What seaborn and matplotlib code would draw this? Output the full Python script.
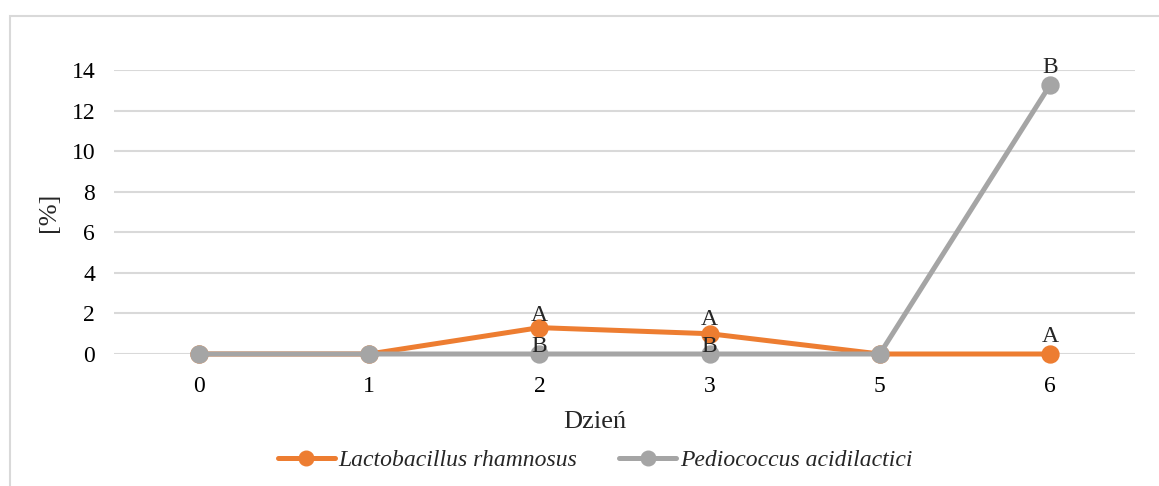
import matplotlib
matplotlib.use("Agg")
import matplotlib.pyplot as plt
import seaborn as sns
import pandas as pd
from matplotlib.lines import Line2D
from matplotlib.patches import Rectangle

days = ["0", "1", "2", "3", "5", "6"]
lacto = [0, 0, 1.3, 1.0, 0, 0]
pedio = [0, 0, 0, 0, 0, 13.25]
lacto_letters = ["", "", "A", "A", "", "A"]
pedio_letters = ["", "", "B", "B", "", "B"]
series_names = ["Lactobacillus rhamnosus", "Pediococcus acidilactici"]
colors = ["#ED7D31", "#A5A5A5"]

# vertical gap (points) between each marker and its letter label
lacto_offsets = [0, 0, 5, 6, 0, 9]
pedio_offsets = [0, 0, 1.5, 1.5, 0, 9]

df = pd.DataFrame({
    "Dzień": days * 2,
    "val": lacto + pedio,
    "species": [series_names[0]] * len(days) + [series_names[1]] * len(days),
})

sns.set_theme(style="white")
plt.rcParams["font.family"] = ["Liberation Serif", "DejaVu Serif"]

W, H = 1159, 486
fig = plt.figure(figsize=(W / 100, H / 100), dpi=100)
ax = fig.add_axes([114 / W, 1 - 354 / H, (1135 - 114) / W, (354 - 70) / H])

# outer chart frame
fig.patches.append(Rectangle((10 / W, -0.1), 1.2, 1 - 16 / H + 0.1,
                             transform=fig.transFigure, fill=False,
                             edgecolor="#D9D9D9", linewidth=1.5, zorder=0))

sns.pointplot(data=df, x="Dzień", y="val", hue="species", order=days,
              hue_order=series_names, palette=colors, markers="o",
              linestyles="-", ax=ax, markersize=10.5, linewidth=3.6,
              legend=False)
for ln in ax.lines:
    ln.set_clip_on(False)

for i in range(len(days)):
    if lacto_letters[i]:
        ax.annotate(lacto_letters[i], (i, lacto[i]), xytext=(0, lacto_offsets[i]),
                    textcoords="offset points", ha="center", va="baseline",
                    fontsize=17)
    if pedio_letters[i]:
        ax.annotate(pedio_letters[i], (i, pedio[i]), xytext=(0, pedio_offsets[i]),
                    textcoords="offset points", ha="center", va="baseline",
                    fontsize=17)

ax.set_ylim(0, 14)
ax.set_xlim(-0.5, len(days) - 0.5)
ax.set_yticks(range(0, 15, 2))
ax.yaxis.grid(True, color="#D9D9D9", linewidth=1.5)
ax.set_axisbelow(True)
for s in ax.spines.values():
    s.set_visible(False)
ax.tick_params(axis="both", length=0, labelsize=17, colors="black")
ax.tick_params(axis="y", pad=13.5)
ax.tick_params(axis="x", pad=16)
ax.set_xlabel("Dzień", fontsize=19, va="center")
ax.set_ylabel("[%]", fontsize=19, va="center")
ax.xaxis.set_label_coords((595 - 114) / 1021, (354 - 422) / 284)
ax.yaxis.set_label_coords((49 - 114) / 1021, 0.5)

handles = [Line2D([], [], color=c, marker="o", markersize=10.5, linewidth=3.6)
           for c in colors]
fig.legend(handles, series_names, loc="center",
           bbox_to_anchor=(595 / W, 1 - 460 / H),
           ncol=2, frameon=False, prop={"style": "italic", "size": 17},
           handlelength=2.4, handletextpad=0.15, columnspacing=1.8)

fig.savefig("out.png", dpi=100)
